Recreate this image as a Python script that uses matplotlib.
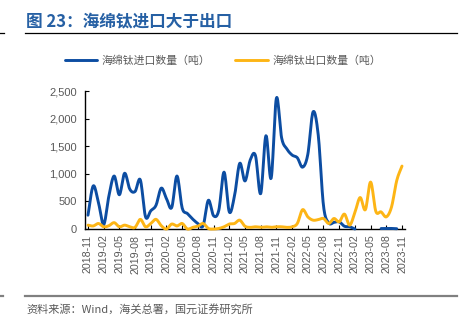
import numpy as np
import pandas as pd
import matplotlib
matplotlib.use("Agg")
import matplotlib.pyplot as plt
from matplotlib.lines import Line2D

plt.rcParams['font.family'] = ['Liberation Sans', 'Noto Sans CJK SC', 'DejaVu Sans']
cjk = ['Noto Sans CJK SC', 'DejaVu Sans']

months = pd.date_range("2018-11-01", "2023-11-01", freq="MS").strftime("%Y-%m").tolist()

# 海绵钛进口数量（吨）
imports = [250, 780, 480, 80, 600, 960, 620, 1010, 720, 680,
           890, 220, 330, 430, 740, 550, 390, 960, 380, 280,
           180, 100, 60, 520, 240, 340, 1030, 310, 600, 1190,
           870, 1250, 1330, 640, 1690, 920, 2370, 1650, 1450, 1340,
           1290, 1120, 1350, 2120, 1700, 420, 110, 120, 130, 50,
           40, 0, np.nan, np.nan, np.nan, np.nan, 8, 10, 10, 5,
           np.nan]
# 海绵钛出口数量（吨）
exports = [70, 55, 100, 40, 60, 115, 40, 70, 40, 30,
           175, 40, 100, 175, 60, 0, 90, 55, 100, 0,
           30, 50, 100, 10, 0, 10, 40, 90, 100, 160,
           50, 30, 40, 30, 40, 30, 40, 40, 30, 40,
           100, 350, 220, 160, 170, 190, 100, 190, 130, 270,
           70, 300, 570, 350, 850, 320, 310, 220, 400, 880,
           1140]

labels = ["海绵钛进口数量（吨）", "海绵钛出口数量（吨）"]
colors = ["#0c4da2", "#fdb515"]


def smooth(y, n=12):
    # Catmull-Rom curve through the monthly points, split at gaps
    y = np.asarray(y, dtype=float)
    x = np.arange(len(y), dtype=float)
    ok = ~np.isnan(y)
    xs, ys = [], []
    i = 0
    while i < len(y):
        if not ok[i]:
            i += 1
            continue
        j = i
        while j < len(y) and ok[j]:
            j += 1
        px, py = x[i:j], y[i:j]
        if len(px) > 1:
            ex = np.r_[2 * px[0] - px[1], px, 2 * px[-1] - px[-2]]
            ey = np.r_[2 * py[0] - py[1], py, 2 * py[-1] - py[-2]]
            t = np.linspace(0, 1, n, endpoint=False)
            for k in range(1, len(ex) - 2):
                for arr, out in ((ex, xs), (ey, ys)):
                    p0, p1, p2, p3 = arr[k - 1], arr[k], arr[k + 1], arr[k + 2]
                    out.extend(0.5 * (2 * p1 + (-p0 + p2) * t
                                      + (2 * p0 - 5 * p1 + 4 * p2 - p3) * t ** 2
                                      + (-p0 + 3 * p1 - 3 * p2 + p3) * t ** 3))
            xs.append(px[-1]); ys.append(py[-1])
        xs.append(np.nan); ys.append(np.nan)
        i = j
    return np.array(xs), np.array(ys)


fig = plt.figure(figsize=(4.74, 3.21), dpi=100)
ax = fig.add_axes([0.1793, 0.2866, 0.6751, 0.4299])

for series, lab, c in zip([imports, exports], labels, colors):
    sx, sy = smooth(series)
    ax.plot(sx, sy, color=c, lw=2.1, label=lab, zorder=3, clip_on=False,
            solid_capstyle='round')

ax.set_xlim(-0.57, len(months) - 1 + 0.57)
ax.set_ylim(0, 2500)
ax.set_yticks(np.arange(0, 2501, 500))
ax.set_yticklabels([f"{v:,}" for v in range(0, 2501, 500)])
ax.set_xticks(range(0, len(months), 3))
ax.set_xticklabels(months[::3], rotation=90)
ax.tick_params(axis='both', direction='in', length=3, width=0.8, colors='black',
               labelcolor='#595959', labelsize=7.7)
ax.tick_params(axis='y', labelsize=8, pad=6)
ax.tick_params(axis='x', pad=4)
for s in ['top', 'right']:
    ax.spines[s].set_visible(False)
for s in ['left', 'bottom']:
    ax.spines[s].set_linewidth(1.0)

leg = fig.legend(loc='center', bbox_to_anchor=(0.47, 0.81), ncol=2, frameon=False,
                 handlelength=3.0, handletextpad=0.4, columnspacing=2.3,
                 borderpad=0, prop={'family': cjk, 'size': 7.8})
for t in leg.get_texts():
    t.set_color('#595959')

fig.text(26 / 474, 1 - 21.5 / 321, "图 23：海绵钛进口大于出口", family=cjk, fontsize=12,
         fontweight='bold', color='#2660a4', va='center', ha='left')
fig.add_artist(Line2D([25 / 474, 457 / 474], [1 - 33 / 321] * 2, color='black', lw=0.9))
fig.add_artist(Line2D([0, 4 / 474], [1 - 33 / 321] * 2, color='black', lw=0.9))
fig.add_artist(Line2D([25 / 474, 457 / 474], [1 - 296 / 321] * 2, color='#808080', lw=1.6))
fig.add_artist(Line2D([0, 3 / 474], [1 - 296 / 321] * 2, color='#808080', lw=1.6))
fig.text(26 / 474, 1 - 309 / 321, "资料来源：Wind，海关总署，国元证券研究所", family=cjk,
         fontsize=8, color='#595959', va='center', ha='left')

fig.savefig("out.png", dpi=100)
